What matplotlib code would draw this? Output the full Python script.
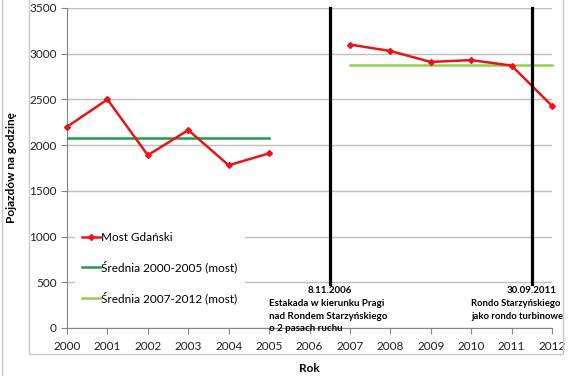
import matplotlib
matplotlib.use('Agg')
import matplotlib.pyplot as plt
from matplotlib.lines import Line2D

# Dane
lata = [2000, 2001, 2002, 2003, 2004, 2005, 2006, 2007, 2008, 2009, 2010, 2011, 2012]
lata_przed = [2000, 2001, 2002, 2003, 2004, 2005]
most_przed = [2200, 2500, 1890, 2165, 1780, 1910]
lata_po = [2007, 2008, 2009, 2010, 2011, 2012]
most_po = [3100, 3030, 2910, 2930, 2870, 2430]
srednia_przed = sum(most_przed) / len(most_przed)
srednia_po = sum(most_po) / len(most_po)

zdarzenia_x = [2006.5, 2011.5]
zdarzenia_daty = ['8.11.2006', '30.09.2011']
zdarzenia_opisy = ['Estakada w kierunku Pragi\nnad Rondem Starzyńskiego\no 2 pasach ruchu',
                   'Rondo Starzyńskiego\njako rondo turbinowe']

plt.rcParams['font.family'] = ['Lato', 'DejaVu Sans']

fig = plt.figure(figsize=(5.7, 3.76), dpi=100)
ax = fig.add_axes([67 / 570, 48 / 376, 485 / 570, 320 / 376])

# Ramka wykresu (jak w Excelu)
fig.add_artist(plt.Rectangle((29 / 570, 22 / 376), 534 / 570, 360 / 376, transform=fig.transFigure,
                             fill=False, edgecolor='#c8c8c8', linewidth=1))
fig.add_artist(Line2D([2 / 570, 2 / 570], [0, 1], transform=fig.transFigure, color='#c8c8c8', linewidth=1))

ax.plot(lata_przed, most_przed, color='#e8141a', marker='D', markersize=3, linewidth=1.8,
        label='Most Gdański', zorder=4, clip_on=False)
ax.plot(lata_po, most_po, color='#e8141a', marker='D', markersize=3, linewidth=1.8, zorder=4, clip_on=False)
ax.plot([lata_przed[0], lata_przed[-1]], [srednia_przed] * 2, color='#1e9c4b', linewidth=1.8,
        label='Średnia 2000-2005 (most)', zorder=3)
ax.plot([lata_po[0], lata_po[-1]], [srednia_po] * 2, color='#92d050', linewidth=1.8,
        label='Średnia 2007-2012 (most)', zorder=3, clip_on=False)

for x in zdarzenia_x:
    ax.plot([x, x], [480, 3500], color='black', linewidth=2.3, zorder=5, clip_on=False)

ax.text(zdarzenia_x[0], 460, zdarzenia_daty[0], ha='center', va='top', fontsize=7, fontweight='bold')
ax.text(2005.0, 315, zdarzenia_opisy[0], ha='left', va='top', fontsize=7, fontweight='bold', linespacing=1.5)
ax.text(zdarzenia_x[1], 460, zdarzenia_daty[1], ha='center', va='top', fontsize=7, fontweight='bold')
ax.text(2010.0, 315, zdarzenia_opisy[1], ha='left', va='top', fontsize=6.8, fontweight='bold', linespacing=1.55,
        clip_on=False)

ax.set_xlim(2000, 2012)
ax.set_ylim(0, 3500)
ax.set_xticks(lata)
ax.set_xticklabels([str(r) for r in lata])
ax.set_yticks(range(0, 3501, 500))
ax.tick_params(axis='both', labelsize=8.5, color='#868686', length=4, colors='#222222')
ax.tick_params(axis='x', pad=5)
ax.grid(axis='y', color='#bfbfbf', linewidth=1)
ax.set_axisbelow(True)
for s in ['top', 'right']:
    ax.spines[s].set_visible(False)
for s in ['left', 'bottom']:
    ax.spines[s].set_color('#868686')

ax.set_xlabel('Rok', fontsize=8.5, fontweight='bold', labelpad=8)
ax.set_ylabel('Pojazdów na godzinę', fontsize=8.5, fontweight='bold', labelpad=9)

leg = ax.legend(loc='upper left', bbox_to_anchor=(0.005, 0.34), fontsize=8.5, frameon=True,
                facecolor='white', edgecolor='none', framealpha=1, handlelength=1.5, handletextpad=0.1,
                labelspacing=1.5, borderpad=0.6)
leg.get_frame().set_boxstyle('square', pad=0)

fig.savefig('out.png', dpi=100)
